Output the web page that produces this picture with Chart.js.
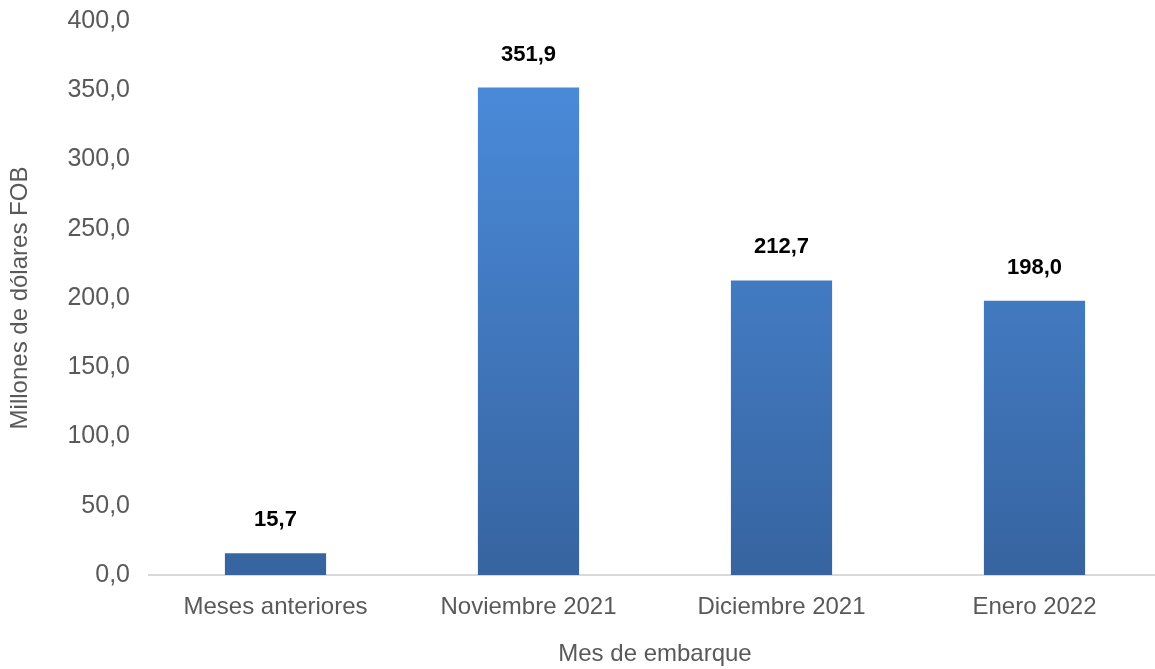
<!DOCTYPE html>
<html>
<head>
<meta charset="utf-8">
<script src="https://cdn.jsdelivr.net/npm/chart.js@4"></script>
<style>
  html, body { margin: 0; padding: 0; background: #fff; overflow: hidden; }
</style>
</head>
<body>
<canvas id="chart" width="1162" height="669"></canvas>
<script>
const categories = ["Meses anteriores", "Noviembre 2021", "Diciembre 2021", "Enero 2022"];
const values = [15.7, 351.9, 212.7, 198.0];
const yTicks = [0, 50, 100, 150, 200, 250, 300, 350, 400];

const fmt = (v) => v.toFixed(1).replace(".", ",");
const FONT = "'Liberation Sans', Arial, sans-serif";

const barGradient = (context) => {
  const chart = context.chart;
  const area = chart.chartArea;
  if (!area) return "#4382d4";
  const y = chart.scales.y;
  const g = chart.ctx.createLinearGradient(0, y.getPixelForValue(values[1]), 0, area.bottom);
  g.addColorStop(0, "#4a8ad9");
  g.addColorStop(1, "#3764a0");
  return g;
};

// bold value labels above each bar
const valueLabels = {
  id: "valueLabels",
  afterDatasetsDraw(chart) {
    const ctx = chart.ctx;
    const meta = chart.getDatasetMeta(0);
    ctx.save();
    ctx.font = "bold 22px " + FONT;
    ctx.fillStyle = "#000";
    ctx.textAlign = "center";
    ctx.textBaseline = "middle";
    meta.data.forEach((bar, i) => {
      ctx.fillText(fmt(values[i]), bar.x, bar.y - 33);
    });
    ctx.restore();
  }
};

new Chart(document.getElementById("chart").getContext("2d"), {
  type: "bar",
  data: {
    labels: categories,
    datasets: [
      {
        data: values,
        backgroundColor: barGradient,
        borderWidth: 0,
        barPercentage: 0.4,
        categoryPercentage: 1,
      },
    ],
  },
  options: {
    responsive: false,
    animation: false,
    layout: { padding: { top: 21, right: 1, left: 0, bottom: 0 } },
    plugins: {
      legend: { display: false },
      tooltip: { enabled: false },
    },
    scales: {
      x: {
        grid: { display: false, drawTicks: false },
        border: { color: "#d9d9d9", width: 2 },
        ticks: {
          color: "#595959",
          font: { family: FONT, size: 24 },
          padding: 18,
        },
        title: {
          display: true,
          text: "Mes de embarque",
          color: "#595959",
          font: { family: FONT, size: 24 },
          padding: { top: 13, bottom: 0 },
        },
        afterFit: (scale) => { scale.height = 94; },
      },
      y: {
        min: 0,
        max: 400,
        afterBuildTicks: (scale) => { scale.ticks = yTicks.map((v) => ({ value: v })); },
        grid: { display: false, drawTicks: false },
        border: { display: false },
        ticks: {
          color: "#595959",
          font: { family: FONT, size: 25 },
          padding: 19,
          callback: (v) => fmt(v),
        },
        title: {
          display: true,
          text: "Millones de dólares FOB",
          color: "#595959",
          font: { family: FONT, size: 24 },
          padding: { top: 6, bottom: 6 },
        },
        afterFit: (scale) => {
          scale.width = 149;
          scale.paddingTop = 0;
          scale.paddingBottom = 0;
        },
      },
    },
  },
  plugins: [valueLabels],
});
</script>
</body>
</html>
